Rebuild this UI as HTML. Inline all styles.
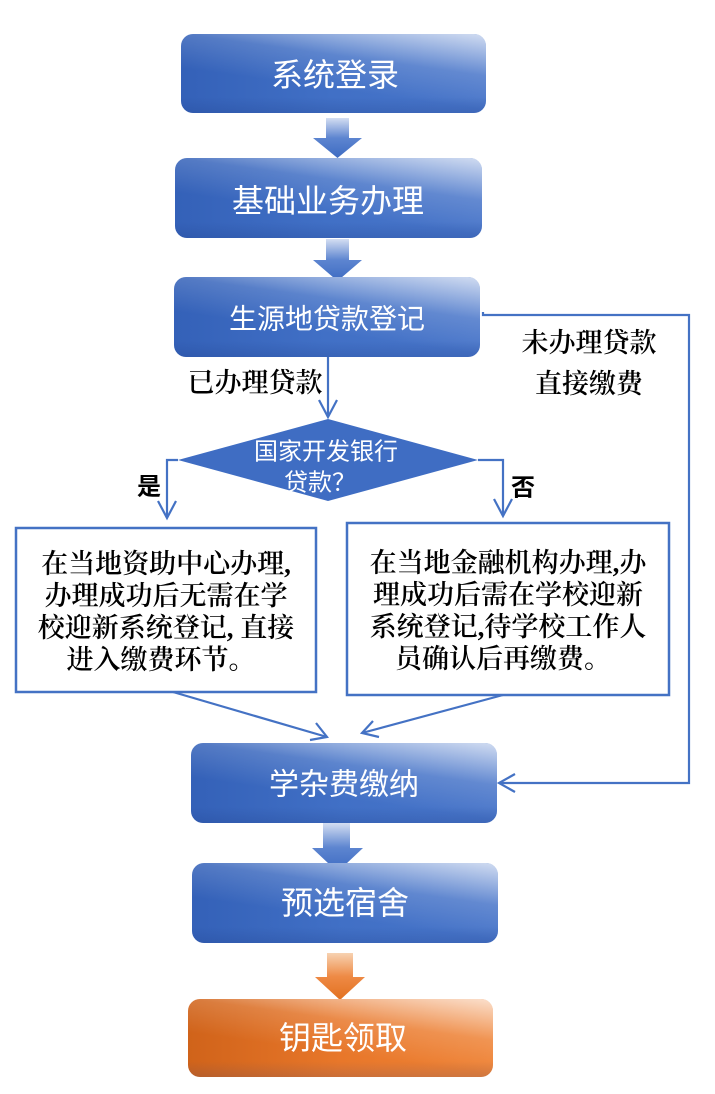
<!DOCTYPE html>
<html><head><meta charset="utf-8"><style>
html,body{margin:0;padding:0;background:#fff;}
svg{display:block;}
.bt{font-family:"Liberation Sans","Noto Sans CJK SC",sans-serif;fill:#fff;}
.st{font-family:"Liberation Serif","Noto Serif CJK SC",serif;fill:#000;}
</style></head><body>
<svg width="715" height="1094" viewBox="0 0 715 1094" xmlns="http://www.w3.org/2000/svg">
<defs>
<linearGradient id="bb" x1="0" y1="0" x2="1" y2="0">
<stop offset="0" stop-color="#3461b8"/><stop offset="0.5" stop-color="#4170c6"/><stop offset="1" stop-color="#4875c9"/>
</linearGradient>
<linearGradient id="bh" x1="1" y1="0" x2="0.6" y2="0.75">
<stop offset="0" stop-color="#ffffff" stop-opacity="0.75"/><stop offset="0.55" stop-color="#ffffff" stop-opacity="0.15"/><stop offset="1" stop-color="#ffffff" stop-opacity="0"/>
</linearGradient>
<linearGradient id="bd" x1="0" y1="0" x2="0" y2="1">
<stop offset="0.8" stop-color="#1f3f8a" stop-opacity="0"/><stop offset="1" stop-color="#1f3f8a" stop-opacity="0.25"/>
</linearGradient>
<linearGradient id="ob" x1="0" y1="0" x2="1" y2="0">
<stop offset="0" stop-color="#d0631a"/><stop offset="0.5" stop-color="#e8772a"/><stop offset="1" stop-color="#ee8235"/>
</linearGradient>
<linearGradient id="ba" x1="0" y1="0" x2="0" y2="1">
<stop offset="0" stop-color="#d4def2"/><stop offset="0.5" stop-color="#5d85d0"/><stop offset="1" stop-color="#3d6bc2"/>
</linearGradient>
<linearGradient id="oa" x1="0" y1="0" x2="0" y2="1">
<stop offset="0" stop-color="#f7d2b2"/><stop offset="0.5" stop-color="#ee8a45"/><stop offset="1" stop-color="#e2701f"/>
</linearGradient>
</defs>

<!-- block arrows -->
<path d="M326 118 H349 V138 H362 L337.5 158 L313 138 H326 Z" fill="url(#ba)"/>
<path d="M326 239 H349 V260 H362 L337.5 281 L313 260 H326 Z" fill="url(#ba)"/>
<path d="M323 823 H350 V848 H363 L337.5 872 L312 848 H323 Z" fill="url(#ba)"/>
<path d="M327 953 H353 V977 H365 L340 1000 L315 977 H327 Z" fill="url(#oa)"/>

<!-- blue boxes -->
<g>
<rect x="181" y="34" width="305" height="79" rx="12" fill="url(#bb)"/>
<rect x="181" y="34" width="305" height="79" rx="12" fill="url(#bh)"/>
<rect x="181" y="34" width="305" height="79" rx="12" fill="url(#bd)"/>
<text x="335" y="75" class="bt" font-size="32" text-anchor="middle" dominant-baseline="central">系统登录</text>
</g>
<g>
<rect x="175" y="158" width="307" height="80" rx="12" fill="url(#bb)"/>
<rect x="175" y="158" width="307" height="80" rx="12" fill="url(#bh)"/>
<rect x="175" y="158" width="307" height="80" rx="12" fill="url(#bd)"/>
<text x="328" y="201" class="bt" font-size="32" text-anchor="middle" dominant-baseline="central">基础业务办理</text>
</g>
<g>
<rect x="174" y="277" width="306" height="80" rx="12" fill="url(#bb)"/>
<rect x="174" y="277" width="306" height="80" rx="12" fill="url(#bh)"/>
<rect x="174" y="277" width="306" height="80" rx="12" fill="url(#bd)"/>
<text x="327" y="319" class="bt" font-size="28" text-anchor="middle" dominant-baseline="central">生源地贷款登记</text>
</g>
<g>
<rect x="191" y="743" width="306" height="80" rx="12" fill="url(#bb)"/>
<rect x="191" y="743" width="306" height="80" rx="12" fill="url(#bh)"/>
<rect x="191" y="743" width="306" height="80" rx="12" fill="url(#bd)"/>
<text x="344" y="785" class="bt" font-size="30" text-anchor="middle" dominant-baseline="central">学杂费缴纳</text>
</g>
<g>
<rect x="192" y="863" width="306" height="80" rx="12" fill="url(#bb)"/>
<rect x="192" y="863" width="306" height="80" rx="12" fill="url(#bh)"/>
<rect x="192" y="863" width="306" height="80" rx="12" fill="url(#bd)"/>
<text x="345" y="903" class="bt" font-size="32" text-anchor="middle" dominant-baseline="central">预选宿舍</text>
</g>
<g>
<rect x="188" y="999" width="305" height="78" rx="12" fill="url(#ob)"/>
<rect x="188" y="999" width="305" height="78" rx="12" fill="url(#bh)"/>
<rect x="188" y="999" width="305" height="78" rx="12" fill="url(#bd)" opacity="0.6"/>
<text x="343" y="1038" class="bt" font-size="32" text-anchor="middle" dominant-baseline="central">钥匙领取</text>
</g>

<!-- diamond -->
<polygon points="328,419 478,460 328,501 178,460" fill="#3f6dc3"/>
<text x="326" y="452" class="bt" font-size="24" fill="#eef2fa" text-anchor="middle" dominant-baseline="central">国家开发银行</text>
<text x="320" y="483" class="bt" font-size="24" fill="#eef2fa" text-anchor="middle" dominant-baseline="central">贷款？</text>

<!-- connectors -->
<g stroke="#4472c4" stroke-width="2.2" fill="none" stroke-linejoin="miter">
<path d="M328 357 V417"/>
<path d="M319 400 L328 417 L337 400"/>
<path d="M178 460 H167 V518"/>
<path d="M158 501 L167 518 L176 501"/>
<path d="M478 460 H503 V516"/>
<path d="M494 499 L503 516 L512 499"/>
<path d="M483 312 V315 H689 V783 H499"/>
<path d="M515 774 L499 783 L515 792"/>
<path d="M173 692 L327 737"/>
<path d="M310 740 L327 737 L316 723"/>
<path d="M503 695 L362 733"/>
<path d="M373 721 L362 733 L379 737"/>
</g>

<!-- white boxes -->
<rect x="16" y="528" width="300" height="164" fill="#fff" stroke="#4472c4" stroke-width="2.5"/>
<rect x="347" y="523" width="322" height="172" fill="#fff" stroke="#4472c4" stroke-width="2.5"/>

<g class="st" font-size="27" font-weight="600" text-anchor="middle" dominant-baseline="central">
<text x="166" y="564">在当地资助中心办理,</text>
<text x="166" y="596">办理成功后无需在学</text>
<text x="166" y="628">校迎新系统登记, 直接</text>
<text x="161" y="660">进入缴费环节。</text>
<text x="508" y="563">在当地金融机构办理,办</text>
<text x="508" y="595">理成功后需在学校迎新</text>
<text x="508" y="627">系统登记,待学校工作人</text>
<text x="503" y="659">员确认后再缴费。</text>
</g>

<!-- labels -->
<g class="st" font-size="27" font-weight="600" text-anchor="middle" dominant-baseline="central">
<text x="255" y="383">已办理贷款</text>
<text x="589" y="343">未办理贷款</text>
<text x="589" y="384">直接缴费</text>
</g>
<text x="149" y="487" font-family="Liberation Sans, Noto Sans CJK SC, sans-serif" font-weight="bold" font-size="24" text-anchor="middle" dominant-baseline="central">是</text>
<text x="523" y="488" font-family="Liberation Sans, Noto Sans CJK SC, sans-serif" font-weight="bold" font-size="24" text-anchor="middle" dominant-baseline="central">否</text>
</svg>
</body></html>
